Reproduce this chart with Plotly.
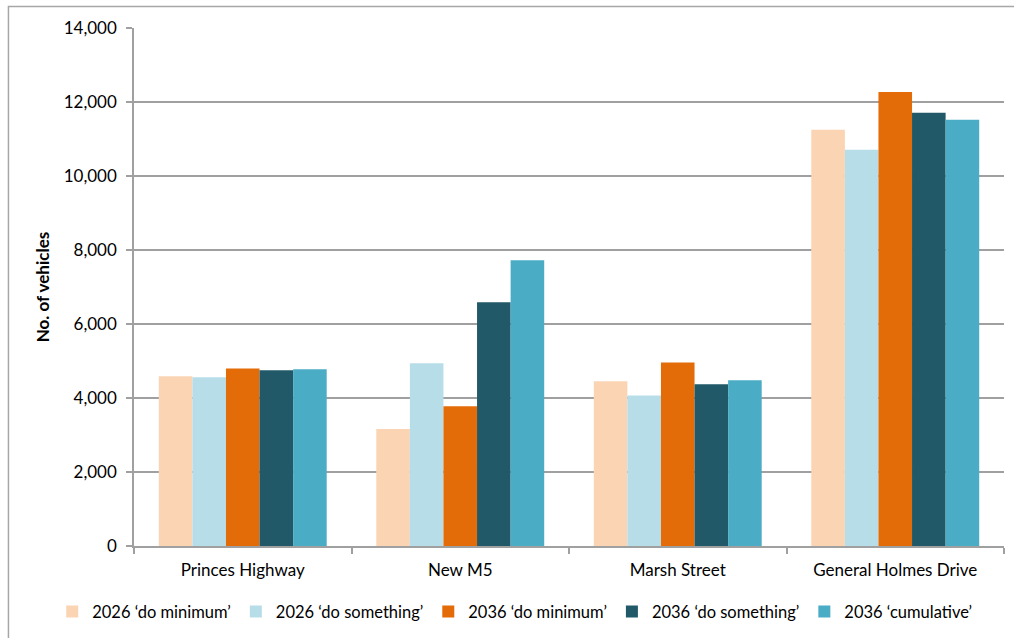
import plotly.graph_objects as go

# Road sections and modelled traffic volumes per scenario
roads = ["Princes Highway", "New M5", "Marsh Street", "General Holmes Drive"]
scenarios = [
    "2026 \u2018do minimum\u2019",
    "2026 \u2018do something\u2019",
    "2036 \u2018do minimum\u2019",
    "2036 \u2018do something\u2019",
    "2036 \u2018cumulative\u2019",
]
dm_2026 = [4590, 3160, 4450, 11250]
ds_2026 = [4560, 4940, 4070, 10710]
dm_2036 = [4800, 3780, 4960, 12270]
ds_2036 = [4750, 6590, 4370, 11710]
cum_2036 = [4780, 7720, 4480, 11520]
series = [dm_2026, ds_2026, dm_2036, ds_2036, cum_2036]
colors = ["#FBD4B4", "#B7DEE8", "#E36C09", "#215968", "#4BACC6"]
y_ticks = [0, 2000, 4000, 6000, 8000, 10000, 12000, 14000]

font_family = "Lato, 'Open Sans', sans-serif"

fig = go.Figure()
for name, vals, col in zip(scenarios, series, colors):
    fig.add_trace(go.Bar(x=roads, y=vals, name=name, marker=dict(color=col, line=dict(width=0))))

fig.update_layout(
    width=1014,
    height=638,
    margin=dict(l=134, r=10, t=28, b=91),
    paper_bgcolor="white",
    plot_bgcolor="white",
    barmode="group",
    bargap=0.228,
    bargroupgap=0,
    font=dict(family=font_family, size=17, color="#000000"),
    legend=dict(
        orientation="h",
        x=-0.094,
        xanchor="left",
        y=-0.125,
        yanchor="middle",
        font=dict(size=16.5),
        itemwidth=30,
        tracegroupgap=0,
    ),
    shapes=[
        dict(type="rect", xref="paper", yref="paper",
             x0=-0.1443, x1=1.03, y0=-0.3, y1=1.0414,
             line=dict(color="#A6A6A6", width=1.5), fillcolor="rgba(0,0,0,0)", layer="below"),
    ],
)

fig.update_xaxes(
    showline=True, linecolor="#A0A0A0", linewidth=1.5,
    ticks="outside", tickson="boundaries", ticklen=6, tickcolor="#A0A0A0", tickwidth=1.5,
    showgrid=False, tickfont=dict(size=17), ticklabelstandoff=8,
)
fig.update_yaxes(
    range=[0, 14000], tickvals=y_ticks, tickformat=",",
    showline=True, linecolor="#A0A0A0", linewidth=1.5,
    ticks="outside", ticklen=6, tickcolor="#A0A0A0", tickwidth=1.5,
    showgrid=True, gridcolor="#A0A0A0", gridwidth=1.5,
    zeroline=False, tickfont=dict(size=17), ticklabelstandoff=6,
    title=dict(text="<b>No. of vehicles</b>", font=dict(size=17), standoff=10),
)

fig.write_html("out.html")
